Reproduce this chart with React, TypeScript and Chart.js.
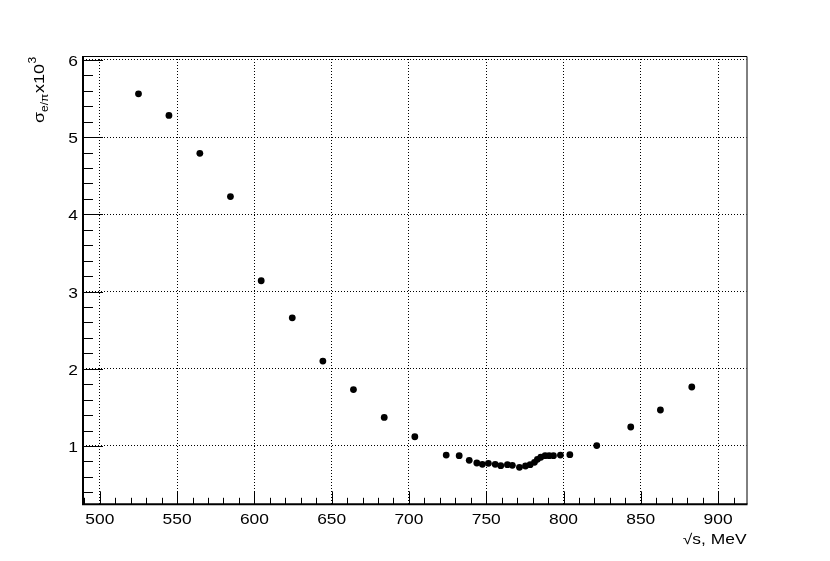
import React, { useEffect, useRef } from "react";
import { Chart, registerables } from "chart.js";

Chart.register(...registerables);

const energies = [
  525.0, 544.7, 564.7, 584.5, 604.4, 624.5, 644.3, 664.1, 684.0, 703.8,
  724.1, 732.5, 739.0, 743.9, 747.5, 751.4, 755.8, 759.4, 763.7, 766.9,
  771.5, 775.4, 778.4, 781.2, 783.1, 785.3, 788.1, 790.7, 793.5, 798.0,
  804.1, 821.5, 843.5, 862.7, 883.0,
];
const sigma = [
  5.56, 5.28, 4.79, 4.23, 3.14, 2.66, 2.10, 1.73, 1.37, 1.12,
  0.883, 0.874, 0.815, 0.78, 0.763, 0.776, 0.763, 0.745, 0.758, 0.75,
  0.724, 0.741, 0.758, 0.789, 0.828, 0.854, 0.874, 0.874, 0.874, 0.883,
  0.887, 1.006, 1.246, 1.466, 1.764,
];
const xTickLabels = [500, 550, 600, 650, 700, 750, 800, 850, 900];
const yTickLabels = [1, 2, 3, 4, 5, 6];
const xTitle = "√s, MeV";

const X_MIN = 489.1;
const X_MAX = 918.4;
const Y_MIN = 0.245;
const Y_MAX = 6.05;
const FONT = "'Liberation Sans', Arial, sans-serif";
const STRETCH = 1.2;

function stretchText(
  ctx: CanvasRenderingContext2D,
  text: string,
  x: number,
  y: number,
  size: number,
  align: "left" | "right" | "center"
) {
  ctx.save();
  ctx.font = `${size}px ${FONT}`;
  ctx.textAlign = align;
  ctx.translate(x, y);
  ctx.scale(STRETCH, 1);
  ctx.fillText(text, 0, 0);
  ctx.restore();
}

const rootPlugin = {
  id: "rootStyle",
  afterDatasetsDraw(chart: any) {
    const ctx = chart.ctx as CanvasRenderingContext2D;
    const xs = chart.scales.x;
    const ys = chart.scales.y;
    const { left, right, top, bottom } = chart.chartArea;
    ctx.save();
    ctx.strokeStyle = "#000";
    ctx.fillStyle = "#000";

    ctx.lineWidth = 1;
    for (let v = 490; v <= 918; v += 10) {
      const px = Math.round(xs.getPixelForValue(v)) + 0.5;
      const major = v % 50 === 0;
      const len = major ? 13 : 6.5;
      ctx.beginPath();
      ctx.moveTo(px, bottom);
      ctx.lineTo(px, bottom - len);
      ctx.stroke();
    }
    for (let i = 2; i <= 30; i++) {
      const v = i / 5;
      if (v < Y_MIN || v > Y_MAX) continue;
      const py = Math.round(ys.getPixelForValue(v)) + 0.5;
      const major = i % 5 === 0;
      const len = major ? 20 : 10;
      ctx.beginPath();
      ctx.moveTo(left, py);
      ctx.lineTo(left + len, py);
      ctx.stroke();
    }

    ctx.lineWidth = 1;
    ctx.beginPath();
    ctx.moveTo(left, top + 0.5);
    ctx.lineTo(right + 0.5, top + 0.5);
    ctx.lineTo(right + 0.5, bottom);
    ctx.stroke();
    ctx.lineWidth = 2;
    ctx.beginPath();
    ctx.moveTo(left, top);
    ctx.lineTo(left, bottom);
    ctx.lineTo(right + 1, bottom);
    ctx.stroke();

    ctx.textBaseline = "alphabetic";
    for (const v of xTickLabels) {
      stretchText(ctx, String(v), xs.getPixelForValue(v), bottom + 20, 14.5, "center");
    }
    for (const v of yTickLabels) {
      stretchText(ctx, String(v), left - 5, ys.getPixelForValue(v) + 6, 14.5, "right");
    }

    stretchText(ctx, xTitle, right, bottom + 40, 14.5, "right");

    ctx.save();
    ctx.translate(44, 123);
    ctx.rotate(-Math.PI / 2);
    ctx.scale(STRETCH, 1);
    ctx.textAlign = "left";
    ctx.textBaseline = "alphabetic";
    let x = 0;
    ctx.font = `15px ${FONT}`;
    ctx.fillText("σ", x, 0);
    x += ctx.measureText("σ").width;
    ctx.font = `10px ${FONT}`;
    ctx.fillText("e/π", x, 4);
    x += ctx.measureText("e/π").width + 0.5;
    ctx.font = `15px ${FONT}`;
    ctx.fillText("x10", x, 0);
    x += ctx.measureText("x10").width + 0.5;
    ctx.font = `10px ${FONT}`;
    ctx.fillText("3", x, -8);
    ctx.restore();

    ctx.restore();
  },
};

export default function App() {
  const ref = useRef<HTMLCanvasElement>(null);
  useEffect(() => {
    if (!ref.current) return;
    const chart = new Chart(ref.current, {
      type: "scatter",
      data: {
        datasets: [
          {
            data: energies.map((e, i) => ({ x: e, y: sigma[i] })),
            backgroundColor: "#000",
            borderColor: "#000",
            pointRadius: 3.4,
            pointBorderWidth: 0,
          },
        ],
      },
      options: {
        responsive: false,
        animation: false,
        devicePixelRatio: 1,
        layout: { padding: { left: 83, right: 83.5, top: 56, bottom: 56.7 } },
        plugins: { legend: { display: false }, tooltip: { enabled: false } },
        scales: {
          x: {
            type: "linear",
            min: X_MIN,
            max: X_MAX,
            ticks: { display: false },
            afterBuildTicks: (s: any) => {
              s.ticks = xTickLabels.map((v) => ({ value: v }));
            },
            grid: { color: "#000", lineWidth: 1, drawTicks: false },
            border: { display: false, dash: [1, 2] },
          },
          y: {
            type: "linear",
            min: Y_MIN,
            max: Y_MAX,
            ticks: { display: false },
            afterBuildTicks: (s: any) => {
              s.ticks = yTickLabels.map((v) => ({ value: v }));
            },
            grid: { color: "#000", lineWidth: 1, drawTicks: false },
            border: { display: false, dash: [1, 2] },
          },
        },
      },
      plugins: [rootPlugin],
    });
    return () => chart.destroy();
  }, []);
  return (
    <canvas
      ref={ref}
      width={830}
      height={561}
      style={{ position: "fixed", left: 0, top: 0, width: 830, height: 561, background: "#fff" }}
    />
  );
}
